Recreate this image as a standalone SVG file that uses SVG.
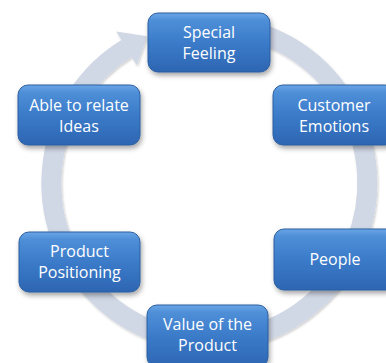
<svg xmlns="http://www.w3.org/2000/svg" width="386" height="363" viewBox="0 0 386 363">
<defs>
<linearGradient id="bg" x1="0" y1="0" x2="0" y2="1">
<stop offset="0" stop-color="#6aa6e6"/>
<stop offset="0.12" stop-color="#4f8fd8"/>
<stop offset="0.5" stop-color="#3b7bc9"/>
<stop offset="1" stop-color="#2d66b3"/>
</linearGradient>
<filter id="sh" x="-20%" y="-20%" width="150%" height="160%">
<feDropShadow dx="1.5" dy="3" stdDeviation="2.5" flood-color="#000" flood-opacity="0.35"/>
</filter>
<filter id="rs" x="-10%" y="-10%" width="120%" height="120%">
<feDropShadow dx="1" dy="1.5" stdDeviation="1.2" flood-color="#000" flood-opacity="0.2"/>
</filter>
</defs>
<style>
.box{fill:url(#bg);stroke:#2b5f9f;stroke-width:1;filter:url(#sh)}
.t{font-family:"Open Sans","Liberation Sans",sans-serif;font-size:16px;fill:#fff;text-anchor:middle}
.ring{fill:none;stroke:#d0d7e5;stroke-width:20}
.head{fill:#d0d7e5}
</style>
<rect width="386" height="363" fill="#fff"/>
<g id="connectors" filter="url(#rs)">
<path class="ring" d="M 221.8 25.6 A 158 158 0 1 1 126.6 48.5"/>
<polygon class="head" points="147,36.2 116.3,31.4 136.9,65.5"/>
</g>
<g id="special-feeling">
<rect class="box" x="148" y="13" width="122" height="59" rx="10"/>
<text class="t" x="209" y="38">Special</text>
<text class="t" x="209" y="59">Feeling</text>
</g>
<g id="customer-emotions">
<rect class="box" x="273" y="85" width="122" height="60" rx="10"/>
<text class="t" x="334" y="111">Customer</text>
<text class="t" x="334" y="132">Emotions</text>
</g>
<g id="people">
<rect class="box" x="274" y="229" width="122" height="61" rx="10"/>
<text class="t" x="335" y="265">People</text>
</g>
<g id="value-of-the-product">
<rect class="box" x="147" y="305" width="121" height="62" rx="10"/>
<text class="t" x="207.5" y="330">Value of the</text>
<text class="t" x="207.5" y="351">Product</text>
</g>
<g id="product-positioning">
<rect class="box" x="19" y="232" width="121" height="60" rx="10"/>
<text class="t" x="79.5" y="257">Product</text>
<text class="t" x="79.5" y="278">Positioning</text>
</g>
<g id="able-to-relate-ideas">
<rect class="box" x="18" y="85" width="122" height="60" rx="10"/>
<text class="t" x="79" y="111">Able to relate</text>
<text class="t" x="79" y="132">Ideas</text>
</g>
</svg>
